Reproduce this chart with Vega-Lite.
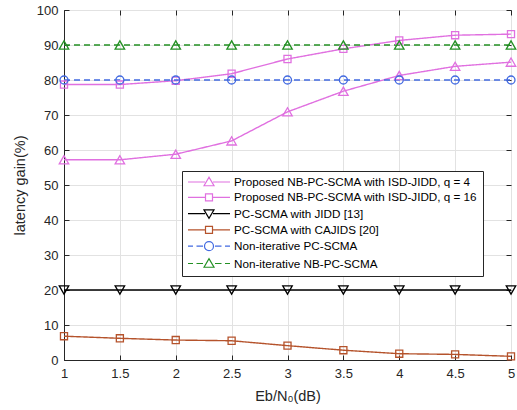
{
  "$schema": "https://vega.github.io/schema/vega-lite/v6.json",
  "width": 447,
  "height": 350,
  "autosize": {"type": "none"},
  "padding": {"left": 64, "top": 10, "right": 6, "bottom": 50},
  "background": "white",
  "config": {
    "font": "Liberation Sans",
    "view": {"stroke": "#262626", "strokeWidth": 1},
    "axis": {
      "domainColor": "#262626",
      "tickColor": "#262626",
      "labelColor": "#262626",
      "titleColor": "#262626",
      "gridColor": "#e2e2e2",
      "labelFontSize": 13,
      "titleFontSize": 14.5,
      "titleFontWeight": "normal",
      "labelFont": "Liberation Sans",
      "titleFont": "Liberation Sans",
      "tickSize": -5
    }
  },
  "data": {
    "values": [
      {"x": 1, "y": 57.2, "s": "Proposed NB-PC-SCMA with ISD-JIDD, q = 4"},
      {"x": 1.5, "y": 57.2, "s": "Proposed NB-PC-SCMA with ISD-JIDD, q = 4"},
      {"x": 2, "y": 58.8, "s": "Proposed NB-PC-SCMA with ISD-JIDD, q = 4"},
      {"x": 2.5, "y": 62.6, "s": "Proposed NB-PC-SCMA with ISD-JIDD, q = 4"},
      {"x": 3, "y": 70.9, "s": "Proposed NB-PC-SCMA with ISD-JIDD, q = 4"},
      {"x": 3.5, "y": 76.8, "s": "Proposed NB-PC-SCMA with ISD-JIDD, q = 4"},
      {"x": 4, "y": 81.3, "s": "Proposed NB-PC-SCMA with ISD-JIDD, q = 4"},
      {"x": 4.5, "y": 83.9, "s": "Proposed NB-PC-SCMA with ISD-JIDD, q = 4"},
      {"x": 5, "y": 85.1, "s": "Proposed NB-PC-SCMA with ISD-JIDD, q = 4"},
      {"x": 1, "y": 78.7, "s": "Proposed NB-PC-SCMA with ISD-JIDD, q = 16"},
      {"x": 1.5, "y": 78.7, "s": "Proposed NB-PC-SCMA with ISD-JIDD, q = 16"},
      {"x": 2, "y": 79.8, "s": "Proposed NB-PC-SCMA with ISD-JIDD, q = 16"},
      {"x": 2.5, "y": 81.8, "s": "Proposed NB-PC-SCMA with ISD-JIDD, q = 16"},
      {"x": 3, "y": 86.0, "s": "Proposed NB-PC-SCMA with ISD-JIDD, q = 16"},
      {"x": 3.5, "y": 88.9, "s": "Proposed NB-PC-SCMA with ISD-JIDD, q = 16"},
      {"x": 4, "y": 91.3, "s": "Proposed NB-PC-SCMA with ISD-JIDD, q = 16"},
      {"x": 4.5, "y": 92.8, "s": "Proposed NB-PC-SCMA with ISD-JIDD, q = 16"},
      {"x": 5, "y": 93.1, "s": "Proposed NB-PC-SCMA with ISD-JIDD, q = 16"},
      {"x": 1, "y": 20, "s": "PC-SCMA with JIDD [13]"},
      {"x": 1.5, "y": 20, "s": "PC-SCMA with JIDD [13]"},
      {"x": 2, "y": 20, "s": "PC-SCMA with JIDD [13]"},
      {"x": 2.5, "y": 20, "s": "PC-SCMA with JIDD [13]"},
      {"x": 3, "y": 20, "s": "PC-SCMA with JIDD [13]"},
      {"x": 3.5, "y": 20, "s": "PC-SCMA with JIDD [13]"},
      {"x": 4, "y": 20, "s": "PC-SCMA with JIDD [13]"},
      {"x": 4.5, "y": 20, "s": "PC-SCMA with JIDD [13]"},
      {"x": 5, "y": 20, "s": "PC-SCMA with JIDD [13]"},
      {"x": 1, "y": 6.8, "s": "PC-SCMA with CAJIDS [20]"},
      {"x": 1.5, "y": 6.2, "s": "PC-SCMA with CAJIDS [20]"},
      {"x": 2, "y": 5.7, "s": "PC-SCMA with CAJIDS [20]"},
      {"x": 2.5, "y": 5.5, "s": "PC-SCMA with CAJIDS [20]"},
      {"x": 3, "y": 4.1, "s": "PC-SCMA with CAJIDS [20]"},
      {"x": 3.5, "y": 2.8, "s": "PC-SCMA with CAJIDS [20]"},
      {"x": 4, "y": 1.8, "s": "PC-SCMA with CAJIDS [20]"},
      {"x": 4.5, "y": 1.6, "s": "PC-SCMA with CAJIDS [20]"},
      {"x": 5, "y": 1.05, "s": "PC-SCMA with CAJIDS [20]"},
      {"x": 1, "y": 80, "s": "Non-iterative PC-SCMA"},
      {"x": 1.5, "y": 80, "s": "Non-iterative PC-SCMA"},
      {"x": 2, "y": 80, "s": "Non-iterative PC-SCMA"},
      {"x": 2.5, "y": 80, "s": "Non-iterative PC-SCMA"},
      {"x": 3, "y": 80, "s": "Non-iterative PC-SCMA"},
      {"x": 3.5, "y": 80, "s": "Non-iterative PC-SCMA"},
      {"x": 4, "y": 80, "s": "Non-iterative PC-SCMA"},
      {"x": 4.5, "y": 80, "s": "Non-iterative PC-SCMA"},
      {"x": 5, "y": 80, "s": "Non-iterative PC-SCMA"},
      {"x": 1, "y": 90, "s": "Non-iterative NB-PC-SCMA"},
      {"x": 1.5, "y": 90, "s": "Non-iterative NB-PC-SCMA"},
      {"x": 2, "y": 90, "s": "Non-iterative NB-PC-SCMA"},
      {"x": 2.5, "y": 90, "s": "Non-iterative NB-PC-SCMA"},
      {"x": 3, "y": 90, "s": "Non-iterative NB-PC-SCMA"},
      {"x": 3.5, "y": 90, "s": "Non-iterative NB-PC-SCMA"},
      {"x": 4, "y": 90, "s": "Non-iterative NB-PC-SCMA"},
      {"x": 4.5, "y": 90, "s": "Non-iterative NB-PC-SCMA"},
      {"x": 5, "y": 90, "s": "Non-iterative NB-PC-SCMA"}
    ]
  },
  "resolve": {
    "axis": {"x": "independent", "y": "independent"},
    "legend": {"color": "independent", "shape": "independent"}
  },
  "layer": [
    {
      "mark": {"type": "line", "strokeWidth": 1.4},
      "encoding": {
        "x": {
          "field": "x", "type": "quantitative",
          "scale": {"domain": [1, 5], "nice": false, "zero": false},
          "axis": {
            "values": [1, 1.5, 2, 2.5, 3, 3.5, 4, 4.5, 5],
            "format": "~g",
            "title": "Eb/N₀(dB)",
            "labelPadding": 12,
            "titlePadding": 9,
            "labelFlush": false
          }
        },
        "y": {
          "field": "y", "type": "quantitative",
          "scale": {"domain": [0, 100], "nice": false},
          "axis": {
            "values": [0, 10, 20, 30, 40, 50, 60, 70, 80, 90, 100],
            "title": "latency gain(%)",
            "labelPadding": 11,
            "titlePadding": 9
          }
        },
        "color": {
          "field": "s", "type": "nominal",
          "scale": {
            "domain": ["Proposed NB-PC-SCMA with ISD-JIDD, q = 4", "Proposed NB-PC-SCMA with ISD-JIDD, q = 16", "PC-SCMA with JIDD [13]", "PC-SCMA with CAJIDS [20]", "Non-iterative PC-SCMA", "Non-iterative NB-PC-SCMA"],
            "range": ["#E070E0", "#E070E0", "#000000", "#B5532C", "#4169E1", "#239023"]
          },
          "legend": null
        },
        "strokeDash": {
          "condition": {"test": "indexof(datum.s, 'Non-iterative') == 0", "value": [6, 4]},
          "value": [1, 0]
        }
      }
    },
    {
      "mark": {"type": "point", "filled": false, "strokeWidth": 1.3, "opacity": 1},
      "encoding": {
        "x": {
          "field": "x", "type": "quantitative",
          "axis": {"orient": "top", "labels": false, "title": null, "grid": false, "domain": false, "values": [1, 1.5, 2, 2.5, 3, 3.5, 4, 4.5, 5]}
        },
        "y": {
          "field": "y", "type": "quantitative",
          "axis": {"orient": "right", "labels": false, "title": null, "grid": false, "domain": false, "values": [0, 10, 20, 30, 40, 50, 60, 70, 80, 90, 100]}
        },
        "color": {"field": "s", "type": "nominal", "legend": null},
        "shape": {
          "condition": [
            {"test": "indexof(datum.s, 'with CAJIDS') > 0 || indexof(datum.s, 'q = 16') > 0", "value": "square"},
            {"test": "indexof(datum.s, 'with JIDD') > 0", "value": "triangle-down"},
            {"test": "datum.s == 'Non-iterative PC-SCMA'", "value": "circle"}
          ],
          "value": "triangle-up"
        },
        "size": {
          "condition": [
            {"test": "indexof(datum.s, 'with CAJIDS') > 0 || indexof(datum.s, 'q = 16') > 0", "value": 50},
            {"test": "datum.s == 'Non-iterative PC-SCMA'", "value": 64}
          ],
          "value": 90
        }
      }
    },
    {
      "transform": [{"filter": "false"}],
      "mark": {"type": "point", "filled": false, "strokeWidth": 1.2},
      "encoding": {
        "x": {"field": "x", "type": "quantitative", "axis": null},
        "y": {"field": "y", "type": "quantitative", "axis": null},
        "color": {
          "field": "s", "type": "nominal",
          "legend": {
            "orient": "none",
            "legendX": 118,
            "legendY": 161,
            "title": null,
            "symbolSize": 100,
            "symbolStrokeWidth": 1.2,
            "symbolFillColor": "transparent",
            "symbolOpacity": 1,
            "labelFontSize": 11.7,
            "labelColor": "#000000",
            "labelOffset": 35,
            "labelLimit": 400,
            "rowPadding": 2.3,
            "padding": 5,
            "fillColor": "white",
            "strokeColor": "#262626"
          }
        },
        "shape": {
          "field": "s", "type": "nominal",
          "scale": {
            "domain": ["Proposed NB-PC-SCMA with ISD-JIDD, q = 4", "Proposed NB-PC-SCMA with ISD-JIDD, q = 16", "PC-SCMA with JIDD [13]", "PC-SCMA with CAJIDS [20]", "Non-iterative PC-SCMA", "Non-iterative NB-PC-SCMA"],
            "range": [
              "M-1,0H2.4M4,0H7.4M2.2,0.75L3.2,-0.95L4.2,0.75Z",
              "M-1,0H2.5M3.9,0H7.4M2.5,-0.7H3.9V0.7H2.5Z",
              "M-1,0H2.4M4,0H7.4M2.2,-0.75L3.2,0.95L4.2,-0.75Z",
              "M-1,0H2.5M3.9,0H7.4M2.5,-0.7H3.9V0.7H2.5Z",
              "M-1,0H0M0.7,0H2M4.4,0H5.7M6.4,0H7.4M4.1,0A0.9,0.9,0,1,1,2.3,0A0.9,0.9,0,1,1,4.1,0Z",
              "M-1,0H0M0.7,0H2M4.4,0H5.7M6.4,0H7.4M2.2,0.75L3.2,-0.95L4.2,0.75Z"
            ]
          }
        }
      }
    }
  ]
}
